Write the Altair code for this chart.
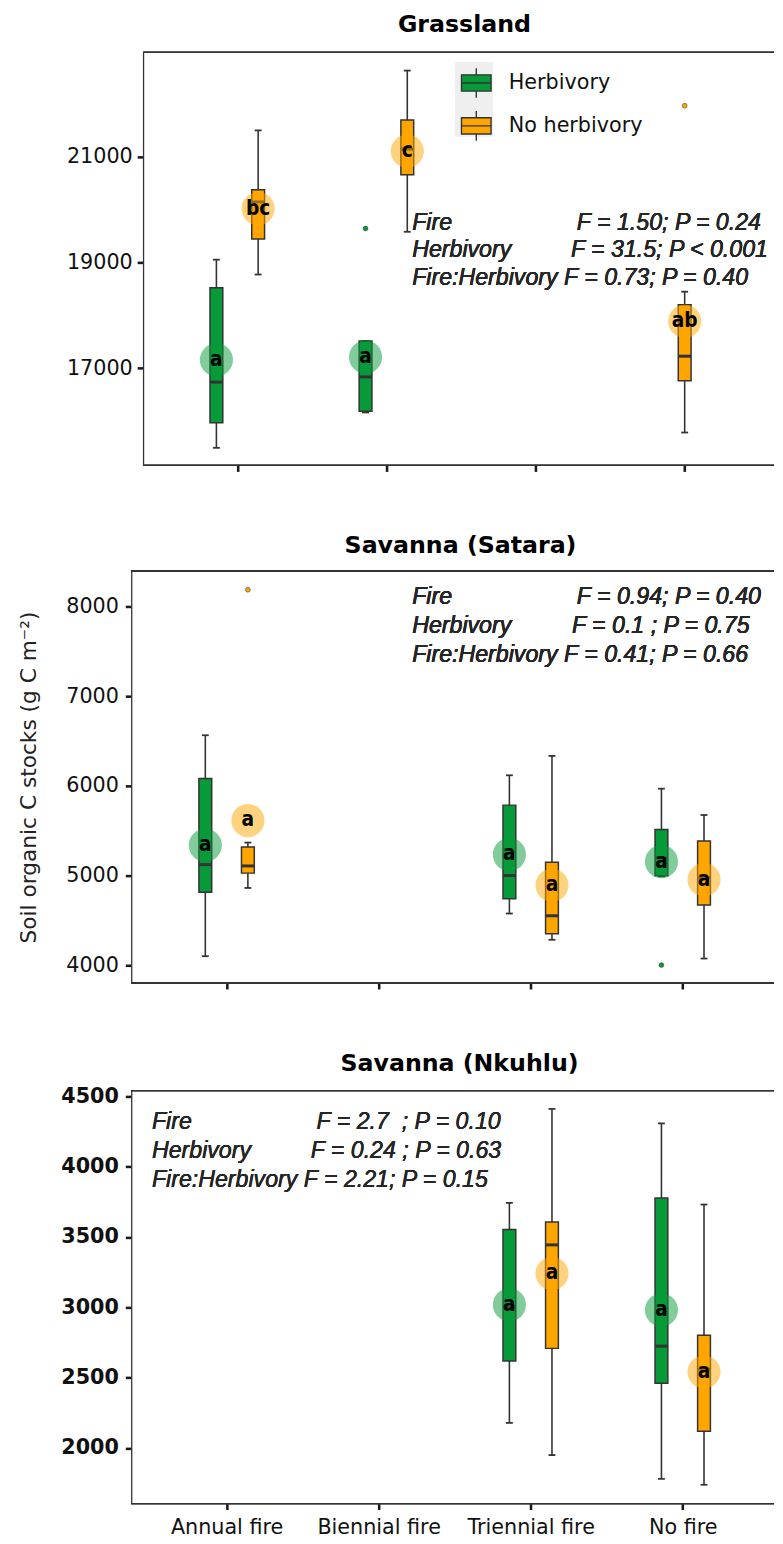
import json
import altair as alt
import pandas as pd

FIRE_LEVELS = ["Annual fire", "Biennial fire", "Triennial fire", "No fire"]
HERB_LEVELS = ["Herbivory", "No herbivory"]
GREEN = "#069A38"
ORANGE = "#FFA500"
Y_TITLE = "Soil organic C stocks (g C m\u207b\u00b2)"

# ---------------- Grassland ----------------
grass_fire = ["Annual fire", "Annual fire", "Biennial fire", "Biennial fire", "No fire"]
grass_herb = ["Herbivory", "No herbivory", "Herbivory", "No herbivory", "No herbivory"]
grass_lower = [15495, 18776, 16165, 19585, 15785]
grass_q1 = [15972, 19449, 16189, 20664, 16763]
grass_median = [16739, 20150, 16838, 21150, 17230]
grass_q3 = [18526, 20383, 17516, 21703, 18202]
grass_upper = [19057, 21505, 17516, 22637, 18451]
grass_mean = [17160, 20022, 17213, 21112, 17890]
grass_letter = ["a", "bc", "a", "c", "ab"]
grass_outliers = [[], [], [19647], [], [21972]]
grass_terms = ["Fire", "Herbivory", "Fire:Herbivory"]
grass_values = ["F = 1.50; P = 0.24", "F = 31.5; P < 0.001", "F = 0.73; P = 0.40"]
grass_ticks = [17000, 19000, 21000]
grass_domain = [15161, 22981]

# ---------------- Savanna (Satara) ----------------
sat_fire = ["Annual fire", "Annual fire", "Triennial fire", "Triennial fire", "No fire", "No fire"]
sat_herb = ["Herbivory", "No herbivory", "Herbivory", "No herbivory", "Herbivory", "No herbivory"]
sat_lower = [4106, 4866, 4581, 4289, 4995, 4080]
sat_q1 = [4819, 5031, 4746, 4355, 5002, 4676]
sat_median = [5126, 5111, 5005, 4556, 5200, 4980]
sat_q3 = [6084, 5323, 5788, 5152, 5517, 5389]
sat_upper = [6566, 5371, 6120, 6336, 5971, 5678]
sat_mean = [5342, 5616, 5239, 4896, 5159, 4958]
sat_letter = ["a", "a", "a", "a", "a", "a"]
sat_outliers = [[], [8186], [], [], [4007], []]
sat_terms = ["Fire", "Herbivory", "Fire:Herbivory"]
sat_values = ["F = 0.94; P = 0.40", "F = 0.1 ; P = 0.75", "F = 0.41; P = 0.66"]
sat_ticks = [4000, 5000, 6000, 7000, 8000]
sat_domain = [3807, 8395]

# ---------------- Savanna (Nkuhlu) ----------------
nk_fire = ["Triennial fire", "Triennial fire", "No fire", "No fire"]
nk_herb = ["Herbivory", "No herbivory", "Herbivory", "No herbivory"]
nk_lower = [2178, 1949, 1780, 1738]
nk_q1 = [2619, 2708, 2460, 2119]
nk_median = [3000, 3444, 2724, 2560]
nk_q3 = [3553, 3607, 3778, 2801]
nk_upper = [3743, 4411, 4308, 3731]
nk_mean = [3018, 3240, 2981, 2540]
nk_letter = ["a", "a", "a", "a"]
nk_outliers = [[], [], [], []]
nk_terms = ["Fire", "Herbivory", "Fire:Herbivory"]
nk_values = ["F = 2.7\u00a0\u00a0; P = 0.10", "F = 0.24 ; P = 0.63", "F = 2.21; P = 0.15"]
nk_ticks = [2000, 2500, 3000, 3500, 4000, 4500]
nk_domain = [1604, 4542]

FONT = "DejaVu Sans"
ANN_FONT = "Liberation Sans"
DODGE = 0.14
FIRE_JSON = json.dumps(FIRE_LEVELS)
LEGEND_PATH = "M-1,-0.55H1V0.55H-1Z M-1,0H1 M0,-0.55V-1 M0,0.55V1"
FRAME = "#333333"

color_scale = alt.Scale(domain=HERB_LEVELS, range=[GREEN, ORANGE])


def make_panel(title, fire, herb, lower, q1, median, q3, upper, mean, letter, outliers,
               terms, values, yticks, ydomain, xdomain, width, height, show_xlabels,
               bold_ylabels, show_ytitle, ytitle_padding, label_padding, foff,
               title_offset, title_dx, ann, legend=False):
    df = pd.DataFrame({
        "fire": fire, "herb": herb, "lower": lower, "q1": q1, "median": median,
        "q3": q3, "upper": upper, "mean": mean, "letter": letter, "out": outliers,
    })
    pos_expr = (
        f"indexof({FIRE_JSON}, datum.fire) + 1 + "
        f"(datum.n_fire > 1 ? (datum.herb == '{HERB_LEVELS[0]}' ? -{DODGE} : {DODGE}) : 0)"
    )
    base = alt.Chart(df).transform_joinaggregate(
        n_fire="count()", groupby=["fire"]
    ).transform_calculate(pos=pos_expr)

    x_axis = alt.Axis(
        values=[1, 2, 3, 4], labels=show_xlabels, labelExpr=f"{FIRE_JSON}[datum.value - 1]",
        labelFlush=False, labelPadding=7, labelFontSize=21, domain=False,
    )
    x = alt.X("pos:Q", scale=alt.Scale(domain=xdomain, nice=False, zero=False),
              axis=x_axis, title=None)
    yaxis_kw = dict(
        values=yticks, format="d", offset=foff, labelPadding=label_padding,
        labelFontWeight="bold" if bold_ylabels else "normal",
    )
    if show_ytitle:
        yaxis_kw.update(title=Y_TITLE, titlePadding=ytitle_padding, titleFontSize=22,
                        titleFont=FONT, titleFontWeight="normal", titleColor="#222222")
    else:
        yaxis_kw.update(title=None)
    y_axis = alt.Axis(**yaxis_kw)
    yscale = alt.Scale(domain=ydomain, nice=False, zero=False)

    def Y(field):
        return alt.Y(f"{field}:Q", scale=yscale, axis=y_axis)

    col_nolegend = alt.Color("herb:N", scale=color_scale, legend=None)
    if legend:
        col_box = alt.Color("herb:N", scale=color_scale, legend=alt.Legend(
            orient="none", legendX=322, legendY=15, direction="vertical", title=None,
            symbolType=LEGEND_PATH, symbolSize=900, symbolStrokeColor=FRAME,
            symbolStrokeWidth=1.4, symbolOpacity=1, labelFont=FONT, labelFontSize=21,
            labelColor="#111111", labelOffset=17, rowPadding=7.5, padding=0,
        ))
    else:
        col_box = col_nolegend

    layers = []
    if legend:
        layers.append(alt.Chart(df).mark_rect(color="#EFEFEF").encode(
            x=alt.value(317), x2=alt.value(355), y=alt.value(10), y2=alt.value(85)))
    # panel frame: top and bottom edges (left edge is the y-axis domain)
    layers.append(alt.Chart(df).mark_rule(color=FRAME, strokeWidth=1.3).encode(
        x=alt.value(-foff), x2=alt.value(width), y=alt.value(0)))
    layers.append(alt.Chart(df).mark_rule(color=FRAME, strokeWidth=1.3).encode(
        x=alt.value(-foff), x2=alt.value(width), y=alt.value(height)))

    whisk = base.mark_rule(color=FRAME, strokeWidth=1.6).encode(
        x=x, y=Y("lower"), y2="upper:Q")
    cap_lo = base.mark_tick(orient="horizontal", size=7, thickness=1.8, color=FRAME,
                            opacity=1).encode(x=x, y=Y("lower"))
    cap_hi = base.mark_tick(orient="horizontal", size=7, thickness=1.8, color=FRAME,
                            opacity=1).encode(x=x, y=Y("upper"))
    box = base.mark_bar(size=13, stroke=FRAME, strokeWidth=1.5, opacity=1).encode(
        x=x, y=Y("q1"), y2="q3:Q", color=col_box)
    med = base.mark_tick(orient="horizontal", size=13, thickness=3, color=FRAME,
                         opacity=1).encode(x=x, y=Y("median"))
    outs = base.transform_flatten(["out"]).mark_circle(
        size=24, opacity=1, stroke="#444444", strokeWidth=0.6).encode(
        x=x, y=Y("out"), color=col_nolegend)
    circ = base.mark_circle(size=1130, opacity=0.5).encode(
        x=x, y=Y("mean"), color=col_nolegend)
    lett = base.mark_text(font="DejaVu Sans Condensed, DejaVu Sans", fontWeight="bold",
                          fontSize=21, color="black", baseline="middle", align="center").encode(
        x=x, y=Y("mean"), text="letter:N")
    layers += [whisk, cap_lo, cap_hi, box, med, outs, circ, lett]

    # ANOVA annotation
    tx, vx, ys = ann
    txt = dict(baseline="middle", align="left", font=ANN_FONT, fontStyle="italic",
               fontWeight="normal", fontSize=23.5, color="#262626")
    for i in range(3):
        if i < 2:
            layers.append(alt.Chart(df).mark_text(**txt).encode(
                x=alt.value(tx), y=alt.value(ys[i]), text=alt.value(terms[i])))
            layers.append(alt.Chart(df).mark_text(**txt).encode(
                x=alt.value(vx[i]), y=alt.value(ys[i]), text=alt.value(values[i])))
        else:
            layers.append(alt.Chart(df).mark_text(**txt).encode(
                x=alt.value(tx), y=alt.value(ys[i]),
                text=alt.value(terms[i] + " " + values[i])))

    return alt.layer(*layers).properties(
        width=width, height=height,
        title=alt.Title(title, offset=title_offset, dx=title_dx),
    )


grass = make_panel("Grassland", grass_fire, grass_herb, grass_lower, grass_q1, grass_median,
                   grass_q3, grass_upper, grass_mean, grass_letter, grass_outliers,
                   grass_terms, grass_values, grass_ticks, grass_domain, [0.4013, 4.566],
                   640, 419, False, False, False, 0, 5, 0, 15, 6,
                   (273, [440, 434], [173, 201, 229]), legend=True)
sat = make_panel("Savanna (Satara)", sat_fire, sat_herb, sat_lower, sat_q1, sat_median,
                 sat_q3, sat_upper, sat_mean, sat_letter, sat_outliers,
                 sat_terms, sat_values, sat_ticks, sat_domain, [0.483, 4.568],
                 640, 418, False, False, True, 26, 7, 12, 13, 2,
                 (273, [440, 435], [27, 56, 85]))
nk = make_panel("Savanna (Nkuhlu)", nk_fire, nk_herb, nk_lower, nk_q1, nk_median,
                nk_q3, nk_upper, nk_mean, nk_letter, nk_outliers,
                nk_terms, nk_values, nk_ticks, nk_domain, [0.483, 4.568],
                640, 419, True, True, False, 0, 7, 12, 10, 1,
                (9, [176, 170], [32, 61, 91]))

chart = alt.concat(
    grass, sat, nk, columns=1, spacing=61,
    padding={"left": 9, "top": -6, "right": 0, "bottom": 0},
).resolve_scale(color="independent").resolve_legend(color="independent").configure_view(
    strokeWidth=0
).configure_axis(
    domainColor=FRAME, domainWidth=1.3, tickColor="#1a1a1a", tickWidth=2.6,
    tickSize=6, labelFont=FONT, labelFontSize=21, labelColor="#111111", grid=False,
).configure_title(
    font=FONT, fontSize=24, fontWeight="bold", anchor="middle", frame="group",
    color="black", baseline="alphabetic",
)

chart.save("out.html", embed_options={"renderer": "svg", "actions": False})
